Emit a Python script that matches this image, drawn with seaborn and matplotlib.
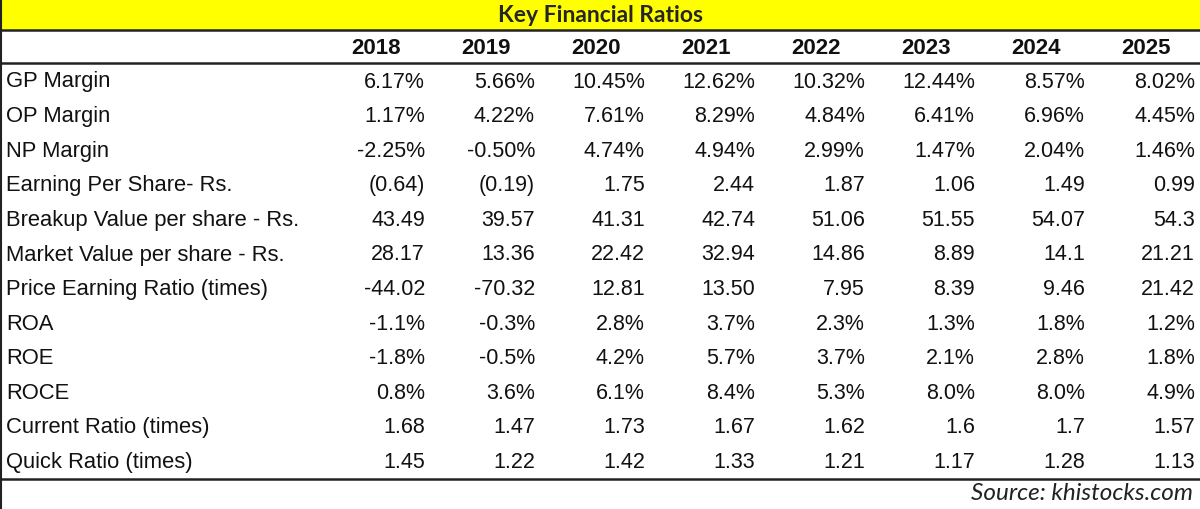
import matplotlib
matplotlib.use("Agg")
from matplotlib import pyplot as plt
import seaborn as sns

sns.set_style("white")
plt.rcParams['font.family'] = ['Liberation Sans', 'DejaVu Sans']

years = ['2018', '2019', '2020', '2021', '2022', '2023', '2024', '2025']
metrics = ['GP Margin', 'OP Margin', 'NP Margin', 'Earning Per Share- Rs.',
           'Breakup Value per share - Rs.', 'Market Value per share - Rs.',
           'Price Earning Ratio (times)', 'ROA', 'ROE', 'ROCE',
           'Current Ratio (times)', 'Quick Ratio (times)']

gp_margin = ['6.17%', '5.66%', '10.45%', '12.62%', '10.32%', '12.44%', '8.57%', '8.02%']
op_margin = ['1.17%', '4.22%', '7.61%', '8.29%', '4.84%', '6.41%', '6.96%', '4.45%']
np_margin = ['-2.25%', '-0.50%', '4.74%', '4.94%', '2.99%', '1.47%', '2.04%', '1.46%']
eps = ['(0.64)', '(0.19)', '1.75', '2.44', '1.87', '1.06', '1.49', '0.99']
breakup = ['43.49', '39.57', '41.31', '42.74', '51.06', '51.55', '54.07', '54.3']
market = ['28.17', '13.36', '22.42', '32.94', '14.86', '8.89', '14.1', '21.21']
pe_ratio = ['-44.02', '-70.32', '12.81', '13.50', '7.95', '8.39', '9.46', '21.42']
roa = ['-1.1%', '-0.3%', '2.8%', '3.7%', '2.3%', '1.3%', '1.8%', '1.2%']
roe = ['-1.8%', '-0.5%', '4.2%', '5.7%', '3.7%', '2.1%', '2.8%', '1.8%']
roce = ['0.8%', '3.6%', '6.1%', '8.4%', '5.3%', '8.0%', '8.0%', '4.9%']
current_ratio = ['1.68', '1.47', '1.73', '1.67', '1.62', '1.6', '1.7', '1.57']
quick_ratio = ['1.45', '1.22', '1.42', '1.33', '1.21', '1.17', '1.28', '1.13']

rows = [gp_margin, op_margin, np_margin, eps, breakup, market, pe_ratio,
        roa, roe, roce, current_ratio, quick_ratio]

fig = plt.figure(figsize=(12, 5.1), dpi=100)
ax = fig.add_axes([0, 0, 1, 1])
ax.set_xlim(0, 1200)
ax.set_ylim(510, 0)
ax.axis('off')

# title band
ax.axhspan(0, 30, color='#FFFF00', zorder=0)
ax.text(601, 15.5, 'Key Financial Ratios', ha='center', va='center',
        fontsize=16.5, fontweight='bold', family=['Lato', 'DejaVu Sans'])

# borders
ax.axhline(30.5, color='#222222', lw=1.8)
ax.axhline(64, color='#222222', lw=1.8)
ax.axhline(479.5, color='#222222', lw=1.8)
ax.axvline(1, color='#222222', lw=1.5)

# header
col_right = [425 + 110 * i for i in range(len(years))]
for x, yr in zip(col_right, years):
    ax.text(x - 49, 48, yr, ha='center', va='center', fontsize=16,
            fontweight='bold', color='#111111')

# body
row_y = [82 + 34.6 * i for i in range(len(metrics))]
for y, name, vals in zip(row_y, metrics, rows):
    ax.text(6, y, name, ha='left', va='center', fontsize=15.8, color='#111111')
    for x, v in zip(col_right, vals):
        ax.text(x, y, v, ha='right', va='center', fontsize=15.5, color='#111111')

ax.text(1193, 494, 'Source: khistocks.com', ha='right', va='center',
        fontsize=17.5, style='italic', color='#222222', family=['Lato', 'DejaVu Sans'])

fig.savefig('out.png', dpi=100)
